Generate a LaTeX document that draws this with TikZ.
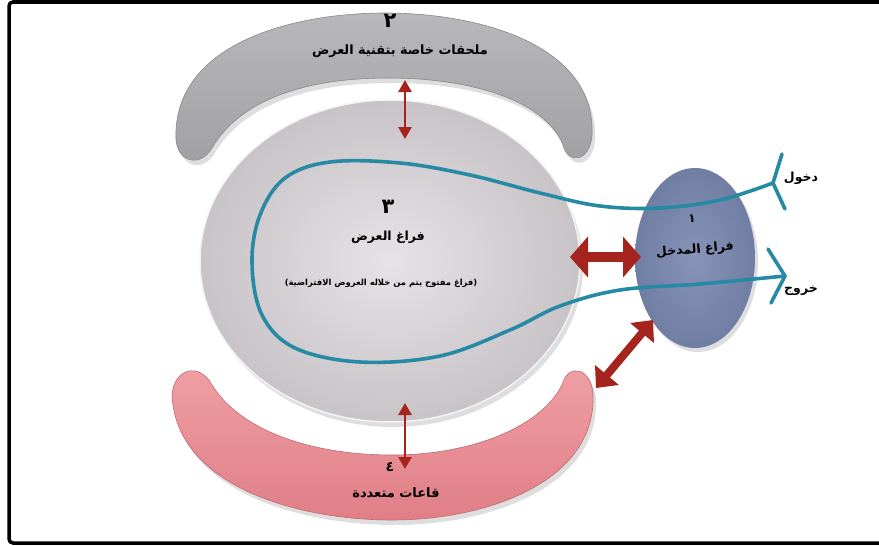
\documentclass[tikz,border=0pt]{standalone}
\usepackage{fontspec}
\newfontfamily\arabicfont[Script=Arabic]{DejaVu Sans}
\TeXXeTstate=1
\usetikzlibrary{arrows.meta,shapes.geometric}
\definecolor{topgray}{RGB}{160,160,162}
\definecolor{topgrayin}{RGB}{184,184,186}
\definecolor{dispout}{RGB}{200,195,198}
\definecolor{dispin}{RGB}{230,226,229}
\definecolor{entout}{RGB}{112,126,164}
\definecolor{entin}{RGB}{134,148,184}
\definecolor{pinkout}{RGB}{224,126,134}
\definecolor{pinkin}{RGB}{240,160,165}
\definecolor{teal}{RGB}{38,138,164}
\definecolor{arrred}{RGB}{166,36,30}
\tikzset{
  lbl/.style={inner sep=0pt, text=black, font=\arabicfont\bfseries},
  redarr/.style={draw=arrred, line width=2.8pt,
     {Triangle[length=12pt,width=13pt]}-{Triangle[length=12pt,width=13pt]}},
  bigarr/.style={draw=arrred, line width=10pt,
     {Triangle[length=18pt,width=40pt]}-{Triangle[length=18pt,width=40pt]}},
  diagarr/.style={draw=arrred, line width=8pt,
     {Triangle[length=17pt,width=30pt]}-{Triangle[length=17pt,width=30pt]}},
  flow/.style={draw=teal, line width=3.6pt, line cap=round, line join=round},
  shadowfill/.style={fill=black, opacity=0.13},
}
\begin{document}
\begin{tikzpicture}[x=1pt,y=-1pt]
\useasboundingbox (0,0) rectangle (879,546);
\fill[white] (0,0) rectangle (879,546);
% frame
\draw[line width=3.5pt, rounded corners=4pt] (920,2) -- (9,2) -- (9,543) -- (920,543);

% top crescent
\def\topcres{(176,140) .. controls (172,45) and (290,13) .. (385,13)
   .. controls (480,13) and (596,45) .. (592,135)
   .. controls (590,162) and (568,165) .. (563,145)
   .. controls (545,100) and (470,78) .. (388,78)
   .. controls (305,78) and (240,100) .. (212,148)
   .. controls (200,168) and (178,162) .. (176,140) -- cycle}
\begin{scope}[shift={(3,5)}]
  \fill[shadowfill] \topcres;
\end{scope}
\shade[top color=topgrayin, bottom color=topgray, draw=topgray!85!black, line width=0.6pt] \topcres;

% bottom crescent
\def\botcres{(172,395) .. controls (176,485) and (295,520) .. (392,520)
   .. controls (490,520) and (596,480) .. (593,395)
   .. controls (592,368) and (568,362) .. (562,385)
   .. controls (540,428) and (470,455) .. (392,455)
   .. controls (310,455) and (240,430) .. (212,385)
   .. controls (200,362) and (174,368) .. (172,395) -- cycle}
\begin{scope}[shift={(3,5)}]
  \fill[shadowfill] \botcres;
\end{scope}
\shade[top color=pinkin, bottom color=pinkout, draw=pinkout!85!black, line width=0.6pt] \botcres;

% display space ellipse
\fill[shadowfill] (393,266) ellipse [x radius=190, y radius=161];
\node[ellipse, minimum width=380pt, minimum height=322pt, inner sep=0pt,
      shading=radial, inner color=dispin, outer color=dispout,
      draw=white!80!dispout, line width=1.5pt] (disp) at (390,261) {};

% entrance ellipse
\fill[shadowfill] (698,262) ellipse [x radius=60, y radius=90];
\node[ellipse, minimum width=120pt, minimum height=180pt, inner sep=0pt,
      shading=radial, inner color=entin, outer color=entout] (entry) at (695,258) {};

% flow loop
\coordinate (inV) at (773,183);
\coordinate (outV) at (785,276);
\draw[flow] plot[smooth, tension=0.6] coordinates {(inV) (720,200) (660,208) (600,206)
  (540,193) (470,175) (400,163) (330,162) (285,178) (260,215) (252,263) (262,315)
  (295,348) (360,362) (440,356) (510,330) (560,306) (620,290) (700,284) (outV)};
\coordinate (inA1) at (782,154);
\coordinate (inA2) at (785,209);
\coordinate (outA1) at (768,249);
\coordinate (outA2) at (771,303);
\draw[flow] (inA1) -- (inV) -- (inA2);
\draw[flow] (outA1) -- (outV) -- (outA2);

% red arrows
\coordinate (ta1) at (405,80);
\coordinate (ta2) at (405,139);
\draw[redarr] (ta1) -- (ta2);
\coordinate (ba1) at (405,403);
\coordinate (ba2) at (405,469);
\draw[redarr] (ba1) -- (ba2);
\coordinate (ha1) at (570,257);
\coordinate (ha2) at (641,257);
\draw[bigarr] (ha1) -- (ha2);
\coordinate (da1) at (596,388);
\coordinate (da2) at (653,320);
\draw[diagarr] (da1) -- (da2);

% labels
\node[lbl, font=\arabicfont\bfseries\fontsize{21}{21}\selectfont] (n2) at (390,21) {\beginR ٢\endR};
\node[lbl, font=\arabicfont\bfseries\fontsize{12.8}{14}\selectfont] (t2) at (400,51) {\beginR ملحقات خاصة بتقنية العرض\endR};
\node[lbl, font=\arabicfont\bfseries\fontsize{21}{21}\selectfont] (n3) at (388,207) {\beginR ٣\endR};
\node[lbl, font=\arabicfont\bfseries\fontsize{12.5}{14}\selectfont] (t3) at (388,237) {\beginR فراغ العرض\endR};
\node[lbl, font=\arabicfont\bfseries\fontsize{8.4}{10}\selectfont] (t3b) at (381,283) {\beginR (فراغ مفتوح يتم من خلاله العروض الافتراضية)\endR};
\node[lbl, font=\arabicfont\bfseries\fontsize{12}{12}\selectfont] (n1) at (692,219) {\beginR ١\endR};
\node[lbl, font=\arabicfont\bfseries\fontsize{12.5}{14}\selectfont, rotate=5] (t1) at (695,250) {\beginR فراغ المدخل\endR};
\node[lbl, font=\arabicfont\bfseries\fontsize{12.5}{14}\selectfont] (tin) at (801,178) {\beginR دخول\endR};
\node[lbl, font=\arabicfont\bfseries\fontsize{12.5}{14}\selectfont] (tout) at (801,291) {\beginR خروج\endR};
\node[lbl, font=\arabicfont\bfseries\fontsize{14}{14}\selectfont] (n4) at (390,467) {\beginR ٤\endR};
\node[lbl, font=\arabicfont\bfseries\fontsize{13}{14}\selectfont] (t4) at (396,493) {\beginR قاعات متعددة\endR};
\end{tikzpicture}
\end{document}
